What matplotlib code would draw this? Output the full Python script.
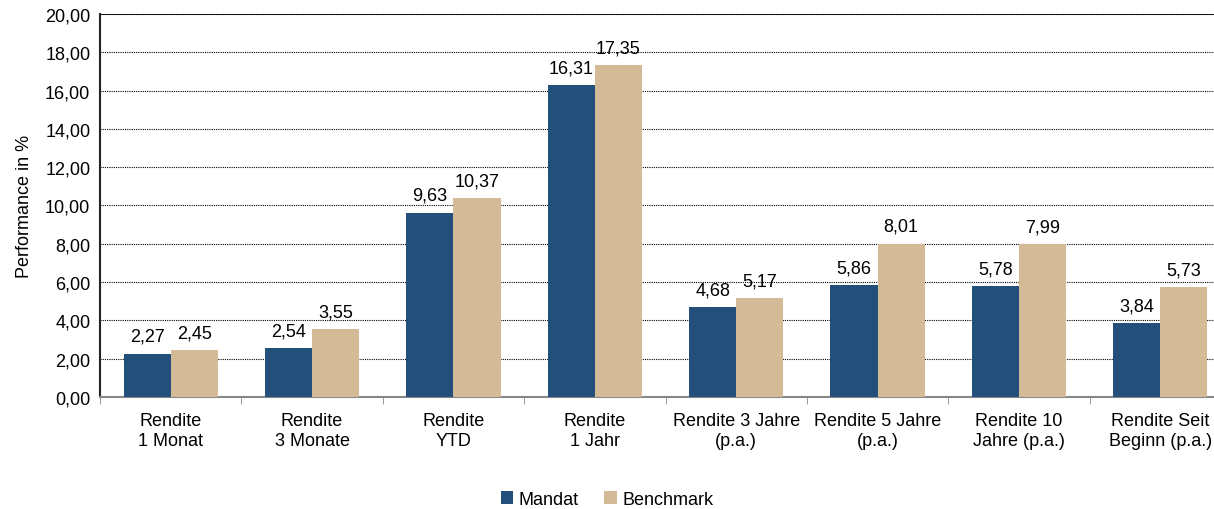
import numpy as np
import matplotlib.pyplot as plt

plt.rcParams['font.family'] = ['Liberation Sans', 'DejaVu Sans']

categories = ["Rendite\n1 Monat", "Rendite\n3 Monate", "Rendite\nYTD", "Rendite\n1 Jahr",
              "Rendite 3 Jahre\n(p.a.)", "Rendite 5 Jahre\n(p.a.)", "Rendite 10\nJahre (p.a.)",
              "Rendite Seit\nBeginn (p.a.)"]
mandat = [2.27, 2.54, 9.63, 16.31, 4.68, 5.86, 5.78, 3.84]
benchmark = [2.45, 3.55, 10.37, 17.35, 5.17, 8.01, 7.99, 5.73]
yticks = np.arange(0, 21, 2)

def fmt(v):
    return f"{v:.2f}".replace(".", ",")

fs = 13
fig = plt.figure(figsize=(12.14, 5.10), dpi=100)
ax = fig.add_axes([0.0824, 0.2196, 0.9316, 0.751])

x = np.arange(len(categories))
w = 1 / 3
b1 = ax.bar(x - w / 2, mandat, w, color="#22507a", label="Mandat", zorder=3)
b2 = ax.bar(x + w / 2, benchmark, w, color="#d5ba98", label="Benchmark", zorder=3)

for bars, vals in [(b1, mandat), (b2, benchmark)]:
    for r, v in zip(bars, vals):
        ax.text(r.get_x() + r.get_width() / 2, v + 0.45, fmt(v), ha="center", va="bottom", fontsize=fs)

ax.set_xlim(-0.5, len(categories) - 0.5)
ax.set_ylim(0, 20)
ax.set_yticks(yticks)
ax.set_yticklabels([fmt(t) for t in yticks], fontsize=fs)
ax.set_xticks(x)
ax.set_xticklabels(categories, fontsize=fs)
ax.tick_params(axis="x", length=0, pad=11)
ax.set_xticks(np.arange(len(categories) + 1) - 0.5, minor=True)
ax.tick_params(axis="x", which="minor", length=5, color="#888888", direction="out")
ax.tick_params(axis="y", length=0, pad=7)
ax.set_ylabel("Performance in %", fontsize=fs, labelpad=9)

ax.grid(axis="y", color="black", linestyle=(0, (1, 1)), linewidth=0.8, zorder=0)
ax.spines["right"].set_visible(False)
ax.spines["top"].set_visible(False)
ax.axhline(20, color="black", linewidth=1.2, zorder=1)
ax.spines["left"].set_color("#222222")
ax.spines["left"].set_linewidth(1.5)
ax.spines["bottom"].set_color("#888888")
ax.spines["bottom"].set_linewidth(1.5)

fig.legend(loc="lower center", ncol=2, frameon=False, fontsize=fs, handlelength=0.7,
           handleheight=0.7, handletextpad=0.3, columnspacing=1.4, bbox_to_anchor=(0.5, -0.03))

fig.savefig("out.png", dpi=100)
